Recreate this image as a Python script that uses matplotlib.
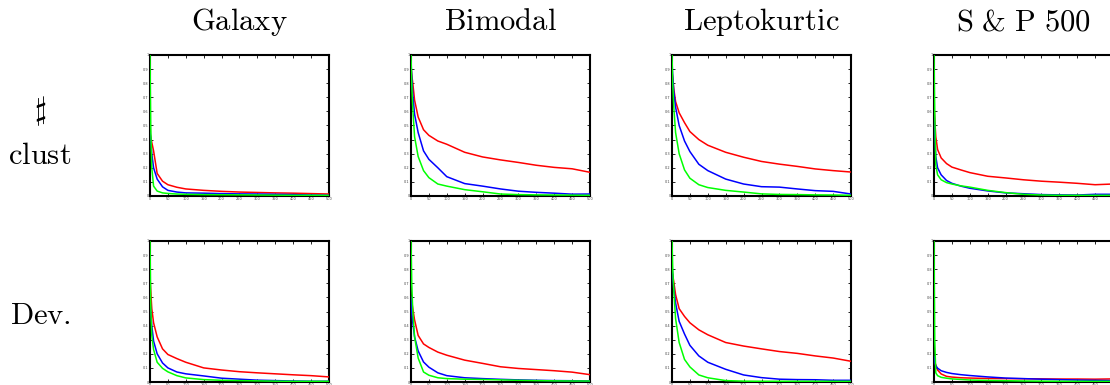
import numpy as np
import matplotlib.pyplot as plt

plt.rcParams['mathtext.fontset'] = 'cm'

# shared x positions (number of iterations)
x = [0, 2, 5, 10, 20, 35, 50, 75, 100, 150, 200, 250, 300, 350, 400, 450, 500]

datasets = [r'$\mathrm{Galaxy}$', r'$\mathrm{Bimodal}$', r'$\mathrm{Leptokurtic}$',
            r'$\mathrm{S}\ &\ \mathrm{P}\ 500$']

# row 1: # clust
galaxy_clust_red = [0.45, 0.42, 0.38, 0.32, 0.16, 0.105, 0.08, 0.062, 0.05, 0.04, 0.033, 0.028, 0.025, 0.022, 0.02, 0.017, 0.014]
galaxy_clust_blue = [0.45, 0.4, 0.3, 0.2, 0.12, 0.065, 0.04, 0.028, 0.022, 0.02, 0.017, 0.015, 0.014, 0.012, 0.01, 0.007, 0.005]
galaxy_clust_green = [1.0, 0.5, 0.2, 0.07, 0.035, 0.022, 0.018, 0.014, 0.012, 0.01, 0.009, 0.008, 0.007, 0.006, 0.005, 0.005, 0.004]

bimodal_clust_red = [0.92, 0.86, 0.8, 0.68, 0.56, 0.47, 0.43, 0.39, 0.367, 0.31, 0.277, 0.256, 0.238, 0.218, 0.203, 0.193, 0.168]
bimodal_clust_blue = [0.95, 0.85, 0.72, 0.58, 0.45, 0.32, 0.26, 0.2, 0.137, 0.088, 0.07, 0.05, 0.034, 0.026, 0.02, 0.013, 0.014]
bimodal_clust_green = [1.0, 0.8, 0.62, 0.42, 0.28, 0.18, 0.13, 0.085, 0.07, 0.045, 0.03, 0.014, 0.01, 0.008, 0.007, 0.006, 0.005]

lepto_clust_red = [0.88, 0.84, 0.76, 0.67, 0.59, 0.52, 0.457, 0.4, 0.36, 0.31, 0.275, 0.245, 0.226, 0.21, 0.192, 0.18, 0.17]
lepto_clust_blue = [0.95, 0.85, 0.74, 0.63, 0.5, 0.39, 0.315, 0.225, 0.18, 0.12, 0.085, 0.066, 0.063, 0.05, 0.038, 0.033, 0.014]
lepto_clust_green = [1.0, 0.8, 0.63, 0.45, 0.3, 0.185, 0.126, 0.08, 0.06, 0.04, 0.028, 0.015, 0.011, 0.01, 0.008, 0.007, 0.005]

sp_clust_red = [0.65, 0.55, 0.42, 0.33, 0.27, 0.23, 0.205, 0.185, 0.166, 0.14, 0.128, 0.115, 0.105, 0.098, 0.09, 0.08, 0.085]
sp_clust_blue = [0.65, 0.45, 0.28, 0.2, 0.15, 0.11, 0.09, 0.07, 0.055, 0.036, 0.022, 0.016, 0.01, 0.008, 0.007, 0.012, 0.012]
sp_clust_green = [1.0, 0.6, 0.22, 0.15, 0.115, 0.095, 0.085, 0.072, 0.063, 0.04, 0.024, 0.012, 0.007, 0.005, 0.005, 0.005, 0.005]

# row 2: Dev.
galaxy_dev_red = [0.75, 0.65, 0.52, 0.42, 0.32, 0.235, 0.195, 0.166, 0.14, 0.1, 0.085, 0.073, 0.065, 0.058, 0.051, 0.045, 0.036]
galaxy_dev_blue = [0.6, 0.5, 0.4, 0.29, 0.2, 0.135, 0.1, 0.071, 0.058, 0.043, 0.027, 0.02, 0.013, 0.01, 0.007, 0.005, 0.005]
galaxy_dev_green = [1.0, 0.55, 0.33, 0.23, 0.14, 0.097, 0.072, 0.045, 0.029, 0.017, 0.012, 0.01, 0.008, 0.006, 0.005, 0.005, 0.005]

bimodal_dev_red = [0.6, 0.57, 0.52, 0.44, 0.33, 0.27, 0.245, 0.212, 0.19, 0.155, 0.132, 0.108, 0.096, 0.088, 0.08, 0.07, 0.052]
bimodal_dev_blue = [0.6, 0.5, 0.42, 0.32, 0.22, 0.142, 0.105, 0.065, 0.045, 0.03, 0.024, 0.019, 0.015, 0.012, 0.01, 0.009, 0.007]
bimodal_dev_green = [1.0, 0.7, 0.5, 0.32, 0.17, 0.071, 0.048, 0.03, 0.024, 0.02, 0.018, 0.015, 0.012, 0.01, 0.008, 0.007, 0.007]

lepto_dev_red = [0.78, 0.76, 0.71, 0.62, 0.52, 0.465, 0.42, 0.37, 0.335, 0.28, 0.255, 0.235, 0.216, 0.203, 0.185, 0.17, 0.147]
lepto_dev_blue = [0.85, 0.75, 0.66, 0.56, 0.43, 0.34, 0.26, 0.185, 0.14, 0.09, 0.05, 0.031, 0.02, 0.017, 0.016, 0.012, 0.012]
lepto_dev_green = [1.0, 0.8, 0.65, 0.45, 0.28, 0.16, 0.107, 0.05, 0.03, 0.01, 0.006, 0.005, 0.005, 0.005, 0.005, 0.005, 0.005]

sp_dev_red = [0.15, 0.145, 0.12, 0.085, 0.057, 0.04, 0.035, 0.03, 0.028, 0.025, 0.024, 0.023, 0.022, 0.021, 0.021, 0.02, 0.022]
sp_dev_blue = [0.18, 0.14, 0.115, 0.098, 0.08, 0.068, 0.06, 0.052, 0.046, 0.036, 0.028, 0.024, 0.02, 0.017, 0.014, 0.012, 0.01]
sp_dev_green = [1.0, 0.3, 0.065, 0.045, 0.033, 0.027, 0.022, 0.018, 0.014, 0.011, 0.009, 0.007, 0.006, 0.005, 0.005, 0.005, 0.005]

rows = [
    [(galaxy_clust_red, galaxy_clust_blue, galaxy_clust_green),
     (bimodal_clust_red, bimodal_clust_blue, bimodal_clust_green),
     (lepto_clust_red, lepto_clust_blue, lepto_clust_green),
     (sp_clust_red, sp_clust_blue, sp_clust_green)],
    [(galaxy_dev_red, galaxy_dev_blue, galaxy_dev_green),
     (bimodal_dev_red, bimodal_dev_blue, bimodal_dev_green),
     (lepto_dev_red, lepto_dev_blue, lepto_dev_green),
     (sp_dev_red, sp_dev_blue, sp_dev_green)],
]

W, H = 1110, 385
fig = plt.figure(figsize=(W / 100, H / 100), dpi=100)

lefts = [150, 411, 672, 934]
tops = [55, 241]
aw, ah = 179, 141

for r, row in enumerate(rows):
    for c, (red, blue, green) in enumerate(row):
        ax = fig.add_axes([lefts[c] / W, 1 - (tops[r] + ah) / H, aw / W, ah / H])
        # lines drawn over the frame, like the matlab output
        ax.plot(x, red, color='#ff0000', lw=1.1, zorder=3)
        ax.plot(x, blue, color='#0000ff', lw=1.1, zorder=3)
        ax.plot(x, green, color='#00ff00', lw=1.1, zorder=3)
        ax.set_xlim(0, 500)
        ax.set_ylim(0, 1)
        ax.set_xticks(np.arange(0, 501, 50))
        ax.set_yticks(np.arange(0, 1.01, 0.1))
        ax.set_yticklabels(['0', '0.1', '0.2', '0.3', '0.4', '0.5', '0.6', '0.7', '0.8', '0.9', '1'])
        ax.tick_params(direction='in', top=True, right=True, length=2, width=0.6,
                       labelsize=2.5, pad=1, labelcolor='#444444')
        for s in ax.spines.values():
            s.set_linewidth(1.5)

# column titles
for c, name in enumerate(datasets):
    fig.text((lefts[c] + aw / 2) / W, 1 - 22 / H, name, ha='center', va='center', fontsize=22)

# row labels
fig.text(40 / W, 1 - 111 / H, r'$\sharp$', ha='center', va='center', fontsize=22)
fig.text(40 / W, 1 - 155 / H, r'$\mathrm{clust}$', ha='center', va='center', fontsize=22)
fig.text(40 / W, 1 - 316 / H, r'$\mathrm{Dev.}$', ha='center', va='center', fontsize=22)

fig.savefig('out.png', dpi=100)
